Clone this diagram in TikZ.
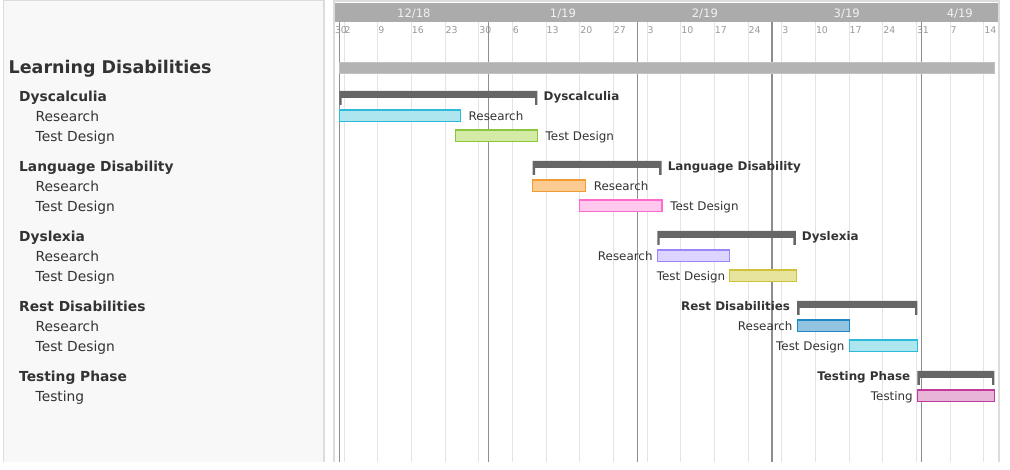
\documentclass[tikz,border=0pt]{standalone}
\usepackage{fontspec}
\setmainfont{DejaVu Sans}
\usepackage{tikz}

\definecolor{texto}{HTML}{333333}
\definecolor{painel}{HTML}{F8F8F8}
\definecolor{borda}{HTML}{DCDCDC}
\definecolor{cabec}{HTML}{ABABAB}
\definecolor{semana}{HTML}{E4E4E4}
\definecolor{mes}{HTML}{8E8E8E}
\definecolor{resumocor}{HTML}{666666}
\definecolor{total}{HTML}{B3B3B3}
\definecolor{ciano}{HTML}{AEE6F0}   \definecolor{cianob}{HTML}{2CB9DA}
\definecolor{verde}{HTML}{D4EBA5}   \definecolor{verdeb}{HTML}{8CC63F}
\definecolor{laranja}{HTML}{FBCB91} \definecolor{laranjab}{HTML}{F39C33}
\definecolor{rosa}{HTML}{FFC8EC}    \definecolor{rosab}{HTML}{FF6ACD}
\definecolor{lilas}{HTML}{DDD5FF}   \definecolor{lilasb}{HTML}{9A86F7}
\definecolor{oliva}{HTML}{E7E49E}   \definecolor{olivab}{HTML}{CDC23A}
\definecolor{azul}{HTML}{92C4DF}    \definecolor{azulb}{HTML}{1E88C7}
\definecolor{magenta}{HTML}{E8B4D8} \definecolor{magentab}{HTML}{C2399C}

\newcommand{\tarefa}[5]{%
  % #1 = linha, #2 = dia inicial, #3 = dia final, #4 = preenchimento, #5 = borda
  \filldraw[fill=#4, draw=#5, line width=1.2pt]
    (#2,#1-5.9) rectangle (#3,#1+5.9);
}
\newcommand{\resumo}[3]{%
  % #1 = linha, #2 = dia inicial, #3 = dia final
  \fill[resumocor]
    (#2,#1-5) -- (#3,#1-5) --
    (#3,#1+9) -- (#3-0.5,#1+9) --
    (#3-0.5,#1+2) -- (#2+0.5,#1+2) --
    (#2+0.5,#1+9) -- (#2,#1+9) --
    cycle;
}

\begin{document}
\begin{tikzpicture}[x=1pt, y=-1pt,
    titulo/.style={anchor=base west, inner sep=0pt, text=texto, yshift=-6.8pt,
      font=\fontsize{17.5}{20}\selectfont\bfseries},
    grupo/.style={anchor=base west, inner sep=0pt, text=texto, yshift=-5.8pt,
      font=\fontsize{13.8}{16}\selectfont\bfseries},
    item/.style={grupo, font=\fontsize{13.8}{16}\selectfont},
    rot/.style={inner sep=0pt, text=texto, yshift=-5pt,
      font=\fontsize{11.9}{14}\selectfont},
    rotd/.style={rot, anchor=base west, xshift=8pt},
    rotdb/.style={rot, anchor=base west, xshift=6pt,
      font=\fontsize{11.9}{14}\selectfont\bfseries},
    rote/.style={rot, anchor=base east, xshift=-4.5pt},
    roteb/.style={rot, anchor=base east, xshift=-7pt,
      font=\fontsize{11.9}{14}\selectfont\bfseries},
    diarot/.style={anchor=base west, inner sep=0pt, xshift=0.3pt, text=black!40,
      font=\fontsize{9.4}{11}\selectfont},
    mesrot/.style={anchor=base, inner sep=0pt, text=white!95!black,
      font=\fontsize{11.6}{13}\selectfont}]
    \useasboundingbox (0,0) rectangle (1010,470);

    % painel da esquerda
    \fill[painel] (3.5,0.8) rectangle (324,462);
    \draw[borda, line width=1.2pt] (3.5,462) -- (3.5,0.8) -- (324,0.8) -- (324,462);

    \node[titulo] (ld) at (8.5,67) {Learning Disabilities};
    \node[grupo] (dysc) at (19,96) {Dyscalculia};
    \node[item] (dysc-pesq) at (35.5,116) {Research};
    \node[item] (dysc-test) at (35.5,136) {Test Design};
    \node[grupo] (lang) at (19,166) {Language Disability};
    \node[item] (lang-pesq) at (35.5,186) {Research};
    \node[item] (lang-test) at (35.5,206) {Test Design};
    \node[grupo] (dysl) at (19,236) {Dyslexia};
    \node[item] (dysl-pesq) at (35.5,256) {Research};
    \node[item] (dysl-test) at (35.5,276) {Test Design};
    \node[grupo] (rest) at (19,306) {Rest Disabilities};
    \node[item] (rest-pesq) at (35.5,326) {Research};
    \node[item] (rest-test) at (35.5,346) {Test Design};
    \node[grupo] (fase) at (19,376) {Testing Phase};
    \node[item] (fase-test) at (35.5,396) {Testing};

    % bordas do gráfico
    \draw[borda, line width=1.5pt] (334,462) -- (334,0.8) -- (999,0.8) -- (999,462);

    % eixo do tempo: 1 unidade = 1 dia, dia 0 = 30/11
    \begin{scope}[xshift=334.5pt, x=4.81pt]
      \fill[cabec] (0.1,2.7) rectangle (137.9,21.7);
      \node[mesrot] (m-dez) at (16.5,17.8) {12/18};
      \node[mesrot] (m-jan) at (47.5,17.8) {1/19};
      \node[mesrot] (m-fev) at (77,17.8) {2/19};
      \node[mesrot] (m-mar) at (106.5,17.8) {3/19};
      \node[mesrot] (m-abr) at (130,17.8) {4/19};

      \foreach \d in {2,9,...,135}
        \draw[semana, line width=1.2pt] (\d,22) -- (\d,462);
      \foreach \d/\n in {0/30, 2/2, 9/9, 16/16, 23/23, 30/30, 37/6, 44/13, 51/20,
                         58/27, 65/3, 72/10, 79/17, 86/24, 93/3, 100/10, 107/17,
                         114/24, 121/31, 128/7, 135/14}
        \node[diarot] (dia-\d) at (\d,33.5) {\n};
      \foreach \d in {1,32,63,91,122}
        \draw[mes, line width=1.5pt] (\d,22) -- (\d,462);

      % barras
      \filldraw[fill=total, draw=total!80!white, line width=1pt] (1.1,62.8) rectangle (137.3,73.8);

      \resumo{96}{1.0}{42.2}
      \tarefa{116}{1.0}{26.2}{ciano}{cianob}
      \tarefa{136}{25.1}{42.2}{verde}{verdeb}
      \resumo{166}{41.2}{68.0}
      \tarefa{186}{41.2}{52.2}{laranja}{laranjab}
      \tarefa{206}{51.0}{68.1}{rosa}{rosab}
      \resumo{236}{67.1}{95.9}
      \tarefa{256}{67.1}{82.2}{lilas}{lilasb}
      \tarefa{276}{82.2}{96.1}{oliva}{olivab}
      \resumo{306}{96.2}{121.2}
      \tarefa{326}{96.2}{107.0}{azul}{azulb}
      \tarefa{346}{107.0}{121.2}{ciano}{cianob}
      \resumo{376}{121.2}{137.2}
      \tarefa{396}{121.2}{137.2}{magenta}{magentab}

      % rótulos
      \node[rotdb] (dysc-c) at (42.2,96) {Dyscalculia};
      \node[rotd] (dysc-pesq-c) at (26.2,116) {Research};
      \node[rotd] (dysc-test-c) at (42.2,136) {Test Design};
      \node[rotdb] (lang-c) at (68.0,166) {Language Disability};
      \node[rotd] (lang-pesq-c) at (52.2,186) {Research};
      \node[rotd] (lang-test-c) at (68.1,206) {Test Design};
      \node[rotdb] (dysl-c) at (95.9,236) {Dyslexia};
      \node[rote] (dysl-pesq-c) at (67.1,256) {Research};
      \node[rote] (dysl-test-c) at (82.2,276) {Test Design};
      \node[roteb] (rest-c) at (96.2,306) {Rest Disabilities};
      \node[rote] (rest-pesq-c) at (96.2,326) {Research};
      \node[rote] (rest-test-c) at (107.0,346) {Test Design};
      \node[roteb] (fase-c) at (121.2,376) {Testing Phase};
      \node[rote] (fase-test-c) at (121.2,396) {Testing};
    \end{scope}
\end{tikzpicture}
\end{document}
